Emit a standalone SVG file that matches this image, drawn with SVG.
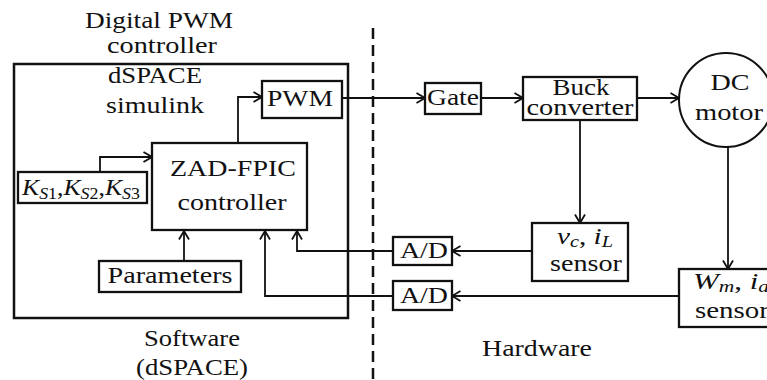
<svg xmlns="http://www.w3.org/2000/svg" width="767" height="380" viewBox="0 0 767 380">
<style>
text{font-family:"Liberation Serif","Times New Roman",serif;font-size:23px;fill:#111}
.box{fill:#fff;stroke:#111;stroke-width:2.3}
.c{fill:none;stroke:#111;stroke-width:1.8}
.it{font-style:italic}
.sub{font-size:16px}
</style>
<defs>
<marker id="ah" markerUnits="userSpaceOnUse" viewBox="0 0 10 12" refX="9.5" refY="6" markerWidth="10" markerHeight="12" orient="auto">
<path d="M1,1 L9.5,6 L1,11" fill="none" stroke="#111" stroke-width="1.8"/>
</marker>
</defs>
<rect width="767" height="380" fill="#fff"/>

<g id="software">
<rect x="14" y="64" width="334" height="254" fill="none" stroke="#111" stroke-width="2.5"/>
<text x="159" y="28" text-anchor="middle" textLength="148" lengthAdjust="spacingAndGlyphs">Digital PWM</text>
<text x="162" y="53" text-anchor="middle" textLength="110" lengthAdjust="spacingAndGlyphs">controller</text>
<text x="155" y="83" text-anchor="middle" textLength="94" lengthAdjust="spacingAndGlyphs">dSPACE</text>
<text x="155" y="113" text-anchor="middle" textLength="98" lengthAdjust="spacingAndGlyphs">simulink</text>
<text x="192" y="346" text-anchor="middle" textLength="96" lengthAdjust="spacingAndGlyphs">Software</text>
<text x="192" y="375" text-anchor="middle" textLength="112" lengthAdjust="spacingAndGlyphs">(dSPACE)</text>
</g>

<g id="divider">
<line x1="373" y1="28" x2="373" y2="380" stroke="#111" stroke-width="2.5" stroke-dasharray="11,6"/>
<text x="537" y="356" text-anchor="middle" textLength="110" lengthAdjust="spacingAndGlyphs">Hardware</text>
</g>

<g id="connectors">
<polyline class="c" points="238,143 238,97 262,97" marker-end="url(#ah)"/>
<polyline class="c" points="100,172 100,157 152,157" marker-end="url(#ah)"/>
<polyline class="c" points="184,261 184,231" marker-end="url(#ah)"/>
<polyline class="c" points="393,251 297,251 297,231" marker-end="url(#ah)"/>
<polyline class="c" points="393,296 265,296 265,231" marker-end="url(#ah)"/>
<polyline class="c" points="342,98 425,98" marker-end="url(#ah)"/>
<polyline class="c" points="481,98 523,98" marker-end="url(#ah)"/>
<polyline class="c" points="637,98 679,98" marker-end="url(#ah)"/>
<polyline class="c" points="580,120 580,223" marker-end="url(#ah)"/>
<polyline class="c" points="532,251 452,251" marker-end="url(#ah)"/>
<polyline class="c" points="728,147 728,269" marker-end="url(#ah)"/>
<polyline class="c" points="679,296 452,296" marker-end="url(#ah)"/>
</g>

<g id="pwm">
<rect class="box" x="262" y="81" width="80" height="37"/>
<text x="300" y="106" text-anchor="middle" textLength="66" lengthAdjust="spacingAndGlyphs">PWM</text>
</g>

<g id="zad">
<rect class="box" x="152" y="143" width="155" height="87" stroke-width="2.5"/>
<text x="233" y="176" text-anchor="middle" textLength="126" lengthAdjust="spacingAndGlyphs">ZAD-FPIC</text>
<text x="232" y="210" text-anchor="middle" textLength="109" lengthAdjust="spacingAndGlyphs">controller</text>
</g>

<g id="ks">
<rect class="box" x="18" y="172" width="129" height="31" stroke-width="2.5"/>
<text x="22" y="195" font-size="23" textLength="118" lengthAdjust="spacingAndGlyphs"><tspan class="it">K</tspan><tspan class="it sub" dy="4">S</tspan><tspan class="sub">1</tspan><tspan dy="-4">,</tspan><tspan class="it">K</tspan><tspan class="it sub" dy="4">S</tspan><tspan class="sub">2</tspan><tspan dy="-4">,</tspan><tspan class="it">K</tspan><tspan class="it sub" dy="4">S</tspan><tspan class="sub">3</tspan></text>
</g>

<g id="parameters">
<rect class="box" x="99" y="261" width="142" height="31"/>
<text x="170" y="283" text-anchor="middle" textLength="125" lengthAdjust="spacingAndGlyphs">Parameters</text>
</g>

<g id="gate">
<rect class="box" x="425" y="83" width="56" height="31"/>
<text x="453" y="105" text-anchor="middle" textLength="52" lengthAdjust="spacingAndGlyphs">Gate</text>
</g>

<g id="buck">
<rect class="box" x="523" y="77" width="114" height="43" stroke-width="2.6"/>
<text x="581" y="94.5" font-size="18.5" text-anchor="middle" textLength="57" lengthAdjust="spacingAndGlyphs">Buck</text>
<text x="580" y="115" font-size="18.5" text-anchor="middle" textLength="107" lengthAdjust="spacingAndGlyphs">converter</text>
</g>

<g id="motor">
<circle cx="726" cy="100" r="47" fill="#fff" stroke="#111" stroke-width="2"/>
<text x="730" y="90" text-anchor="middle" textLength="39" lengthAdjust="spacingAndGlyphs">DC</text>
<text x="729" y="120" text-anchor="middle" textLength="68" lengthAdjust="spacingAndGlyphs">motor</text>
</g>

<g id="ad1">
<rect class="box" x="393" y="237" width="59" height="28"/>
<text x="424" y="258" text-anchor="middle" textLength="48" lengthAdjust="spacingAndGlyphs">A/D</text>
</g>

<g id="ad2">
<rect class="box" x="393" y="281" width="59" height="29"/>
<text x="424" y="303" text-anchor="middle" textLength="48" lengthAdjust="spacingAndGlyphs">A/D</text>
</g>

<g id="vc-sensor">
<rect class="box" x="532" y="223" width="96" height="58"/>
<text x="557" y="244" textLength="56" lengthAdjust="spacingAndGlyphs"><tspan class="it">v</tspan><tspan class="it sub" dy="3">c</tspan><tspan dy="-3">, </tspan><tspan class="it">i</tspan><tspan class="it sub" dy="3">L</tspan></text>
<text x="586" y="271" text-anchor="middle" textLength="72" lengthAdjust="spacingAndGlyphs">sensor</text>
</g>

<g id="wm-sensor">
<rect class="box" x="679" y="269" width="110" height="58"/>
<text x="693" y="289" textLength="76" lengthAdjust="spacingAndGlyphs"><tspan class="it">W</tspan><tspan class="it sub" dy="3">m</tspan><tspan dy="-3">, </tspan><tspan class="it">i</tspan><tspan class="it sub" dy="3">a</tspan></text>
<text x="695" y="318" textLength="74" lengthAdjust="spacingAndGlyphs">sensor</text>
</g>
</svg>
